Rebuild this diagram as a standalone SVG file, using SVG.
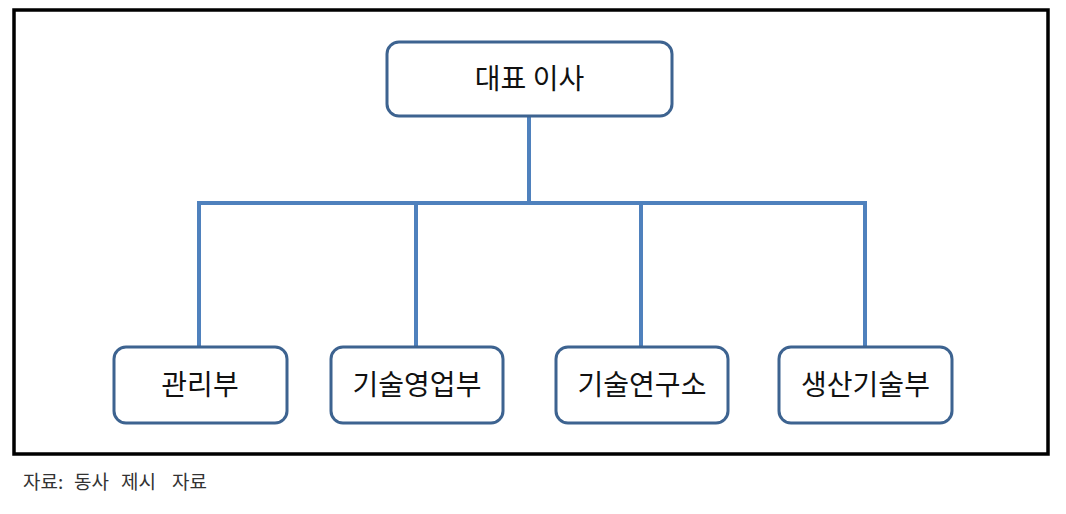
<svg xmlns="http://www.w3.org/2000/svg" width="1066" height="514" viewBox="0 0 1066 514">
<defs>
<style>
.box{fill:#ffffff;stroke:#3d6390;stroke-width:3;}
.lbl{font-family:"Noto Sans CJK KR","Noto Sans",sans-serif;font-size:28px;fill:#111111;text-anchor:middle;}
.conn{fill:none;stroke:#4f81bd;stroke-width:4;stroke-linejoin:miter;}
.cap{font-family:"Noto Sans CJK KR",serif;font-size:19px;fill:#333333;}
</style>
</defs>
<rect x="0" y="0" width="1066" height="514" fill="#ffffff"/>
<rect x="14" y="10" width="1034" height="444" fill="none" stroke="#000000" stroke-width="3.5"/>
<g id="connectors">
<path class="conn" d="M529,116 V203"/>
<path class="conn" d="M199,347 V203 H865 V347"/>
<path class="conn" d="M416,203 V347"/>
<path class="conn" d="M641,203 V347"/>
</g>
<g id="ceo">
<rect class="box" x="387" y="42" width="285" height="74" rx="12"/>
<text class="lbl" x="529.5" y="89">대표 이사</text>
</g>
<g id="admin">
<rect class="box" x="114" y="347" width="173" height="76" rx="12"/>
<text class="lbl" x="200" y="395">관리부</text>
</g>
<g id="techsales">
<rect class="box" x="331" y="347" width="172" height="76" rx="12"/>
<text class="lbl" x="417" y="395">기술영업부</text>
</g>
<g id="rnd">
<rect class="box" x="556" y="347" width="172" height="76" rx="12"/>
<text class="lbl" x="642" y="395">기술연구소</text>
</g>
<g id="production">
<rect class="box" x="779" y="347" width="173" height="76" rx="12"/>
<text class="lbl" x="865.5" y="395">생산기술부</text>
</g>
<text class="cap" y="489"><tspan x="23">자료:</tspan><tspan x="74">동사</tspan><tspan x="121">제시</tspan><tspan x="172">자료</tspan></text>
</svg>
